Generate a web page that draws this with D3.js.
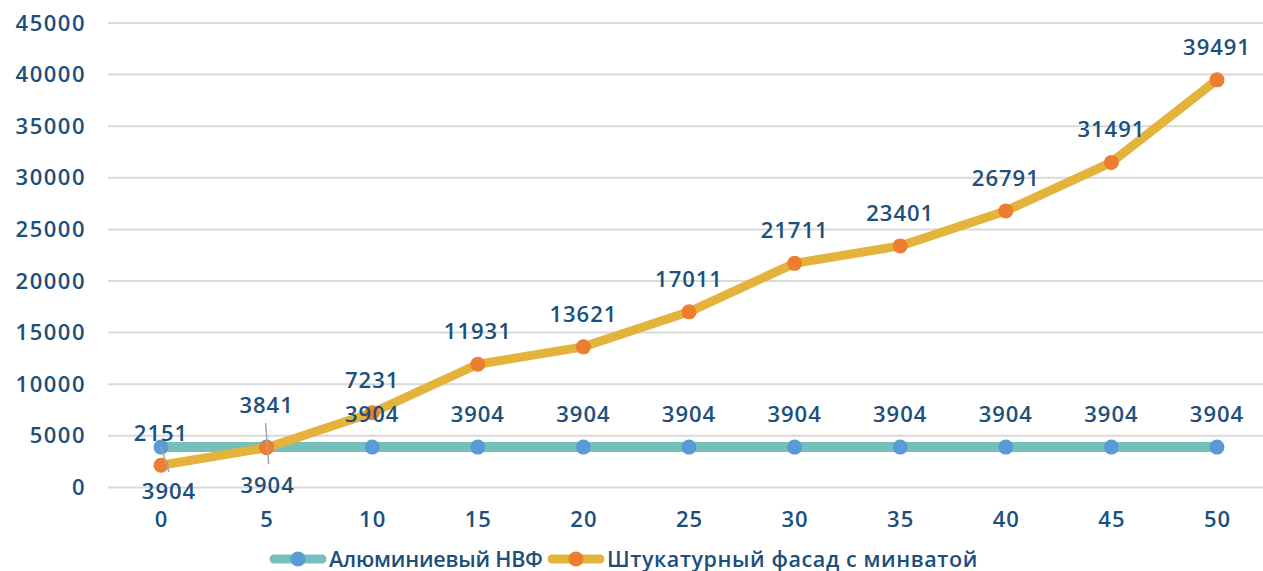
<!DOCTYPE html>
<html>
<head>
<meta charset="utf-8">
<script src="https://cdn.jsdelivr.net/npm/d3@7"></script>
<style>
  body { margin: 0; background: #fff; }
  svg text { font-family: "Open Sans", sans-serif; font-weight: 600; fill: #1c4f7c; }
</style>
</head>
<body>
<svg id="chart" width="1263" height="571"></svg>
<script>
const years = [0, 5, 10, 15, 20, 25, 30, 35, 40, 45, 50];
const aluminium = [3904, 3904, 3904, 3904, 3904, 3904, 3904, 3904, 3904, 3904, 3904];
const plaster = [2151, 3841, 7231, 11931, 13621, 17011, 21711, 23401, 26791, 31491, 39491];
const yTicks = [0, 5000, 10000, 15000, 20000, 25000, 30000, 35000, 40000, 45000];
const seriesNames = ['Алюминиевый НВФ', 'Штукатурный фасад с минватой'];

const svg = d3.select('#chart');

const x = d3.scaleLinear().domain([0, 50]).range([161, 1217]);
const y = d3.scaleLinear().domain([0, 45000]).range([487.4, 23]);

// grid
svg.append('g')
  .selectAll('line')
  .data(yTicks)
  .enter()
  .append('line')
  .attr('x1', 108)
  .attr('x2', 1263)
  .attr('y1', (d) => y(d))
  .attr('y2', (d) => y(d))
  .attr('stroke', '#d9d9d9')
  .attr('stroke-width', 2);

// y axis labels
const yAxis = svg.append('g')
  .attr('transform', 'translate(86,0)')
  .call(d3.axisLeft(y).tickValues(yTicks).tickSize(0).tickPadding(0).tickFormat((d) => d));
yAxis.select('.domain').remove();
yAxis.selectAll('text').attr('font-size', 22).attr('fill', '#1c4f7c')
  .style('font-family', '"Open Sans", sans-serif').style('letter-spacing', '1.5px');

// x axis labels
const xAxis = svg.append('g')
  .attr('transform', 'translate(0,511)')
  .call(d3.axisBottom(x).tickValues(years).tickSize(0).tickPadding(0).tickFormat((d) => d));
xAxis.select('.domain').remove();
xAxis.selectAll('text').attr('font-size', 22).attr('fill', '#1c4f7c')
  .style('font-family', '"Open Sans", sans-serif').style('letter-spacing', '1px');

const line = d3.line()
  .x((d, i) => x(years[i]))
  .y((d) => y(d));

// series lines
svg.append('path')
  .datum(aluminium)
  .attr('d', line)
  .attr('fill', 'none')
  .attr('stroke', '#76c0bb')
  .attr('stroke-width', 10);

svg.append('path')
  .datum(plaster)
  .attr('d', line)
  .attr('fill', 'none')
  .attr('stroke', '#e3b33b')
  .attr('stroke-width', 9)
  .attr('stroke-linejoin', 'round');

svg.append('g')
  .selectAll('circle')
  .data(aluminium)
  .enter()
  .append('circle')
  .attr('cx', (d, i) => x(years[i]))
  .attr('cy', (d) => y(d))
  .attr('r', 7.5)
  .attr('fill', '#5b9bd5');

svg.append('g')
  .selectAll('circle')
  .data(plaster)
  .enter()
  .append('circle')
  .attr('cx', (d, i) => x(years[i]))
  .attr('cy', (d) => y(d))
  .attr('r', 7.5)
  .attr('fill', '#ed7d31');

// leader lines for the first two points
const leaders = [
  [[x(0), y(aluminium[0])], [x(0) + 8, 472]],
  [[x(5) - 1, 423], [x(5) + 2, 464]]
];
svg.append('g')
  .selectAll('line')
  .data(leaders)
  .enter()
  .append('line')
  .attr('x1', (d) => d[0][0])
  .attr('y1', (d) => d[0][1])
  .attr('x2', (d) => d[1][0])
  .attr('y2', (d) => d[1][1])
  .attr('stroke', '#a6a6a6')
  .attr('stroke-width', 1.5);

// data labels
const labelG = svg.append('g').attr('font-size', 22).attr('text-anchor', 'middle')
  .style('letter-spacing', '1px');

labelG.selectAll('.lbl-a')
  .data(aluminium)
  .enter()
  .append('text')
  .attr('class', 'lbl-a')
  .attr('x', (d, i) => x(years[i]) + (i === 0 ? 8 : i === 1 ? 1 : 0))
  .attr('y', (d, i) => (i < 2 ? y(d) + (i === 0 ? 52 : 46) : y(d) - 25))
  .text((d) => d);

labelG.selectAll('.lbl-p')
  .data(plaster)
  .enter()
  .append('text')
  .attr('class', 'lbl-p')
  .attr('x', (d, i) => x(years[i]))
  .attr('y', (d, i) => (i === 0 ? y(d) - 24 : i === 1 ? y(d) - 35 : y(d) - 25))
  .text((d) => d);

// legend
const legend = svg.append('g').attr('transform', 'translate(0,559)');
const legendItems = [
  { x: 270, line: '#76c0bb', dot: '#5b9bd5', spacing: '-0.2px' },
  { x: 548, line: '#e3b33b', dot: '#ed7d31', spacing: '0.6px' }
];
legendItems.forEach((it, i) => {
  legend.append('line')
    .attr('x1', it.x + 4).attr('x2', it.x + 52)
    .attr('y1', 0).attr('y2', 0)
    .attr('stroke', it.line).attr('stroke-width', 9).attr('stroke-linecap', 'round');
  legend.append('circle')
    .attr('cx', it.x + 28).attr('cy', 0).attr('r', 7.5).attr('fill', it.dot);
  legend.append('text')
    .attr('x', it.x + 59).attr('y', 8)
    .attr('font-size', 21.5)
    .style('letter-spacing', it.spacing)
    .text(seriesNames[i]);
});
</script>
</body>
</html>
